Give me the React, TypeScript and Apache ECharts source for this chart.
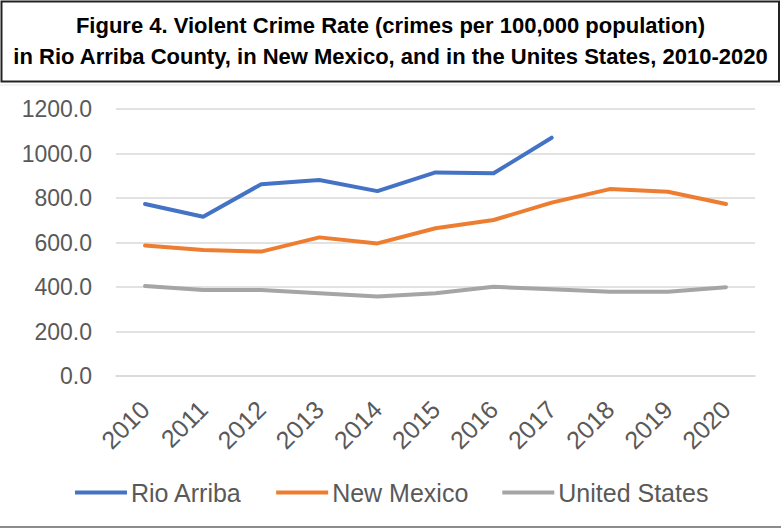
import React, { useEffect, useRef } from "react";
import * as echarts from "echarts";

const years = ["2010", "2011", "2012", "2013", "2014", "2015", "2016", "2017", "2018", "2019", "2020"];
const rioArriba = [773, 716, 862, 881, 831, 915, 911, 1071, null, null, null];
const newMexico = [586, 566, 559, 623, 596, 664, 701, 779, 840, 828, 773];
const unitedStates = [404, 386, 386, 372, 357, 372, 401, 390, 379, 379, 399];
const titleLines = [
  "Figure 4. Violent Crime Rate (crimes per 100,000 population)",
  "in Rio Arriba County, in New Mexico, and in the Unites States, 2010-2020",
];

const FONT = "'Liberation Sans', Arial, sans-serif";

export default function App() {
  const ref = useRef<HTMLDivElement>(null);
  useEffect(() => {
    if (!ref.current) return;
    const chart = echarts.init(ref.current, null, { renderer: "svg" });
    const mk = (name: string, data: (number | null)[], color: string) => ({
      name,
      type: "line",
      data,
      symbol: "none",
      showSymbol: false,
      lineStyle: { color, width: 4, cap: "round", join: "round" },
      itemStyle: { color },
      connectNulls: false,
    });
    chart.setOption({
      animation: false,
      backgroundColor: "#ffffff",
      title: {
        text: titleLines.join("\n"),
        left: "center",
        top: 5,
        textStyle: {
          fontFamily: FONT,
          fontWeight: "bold",
          fontSize: 22,
          lineHeight: 31,
          color: "#000000",
        },
      },
      graphic: [
        {
          type: "rect",
          shape: { x: 1.5, y: 1.5, width: 777.5, height: 80 },
          style: { fill: "none", stroke: "#222222", lineWidth: 2 },
          z: 10,
        },
        {
          type: "line",
          shape: { x1: 0, y1: 527, x2: 781, y2: 527 },
          style: { stroke: "#8c8c8c", lineWidth: 2 },
        },
        {
          type: "line",
          shape: { x1: 0, y1: 85, x2: 781, y2: 85 },
          style: { stroke: "#e6e6e6", lineWidth: 1 },
        },
      ],
      grid: { left: 116, right: 26, top: 109, bottom: 153, containLabel: false },
      xAxis: {
        type: "category",
        data: years,
        boundaryGap: true,
        axisLine: { show: true, lineStyle: { color: "#d9d9d9", width: 1.5 } },
        axisTick: { show: false },
        axisLabel: {
          rotate: 45,
          margin: 29,
          fontFamily: FONT,
          fontSize: 25,
          color: "#595959",
        },
      },
      yAxis: {
        type: "value",
        min: 0,
        max: 1200,
        interval: 200,
        axisLine: { show: false },
        axisTick: { show: false },
        splitLine: { lineStyle: { color: "#d9d9d9", width: 1.5 } },
        axisLabel: {
          margin: 24,
          fontFamily: FONT,
          fontSize: 23,
          color: "#595959",
          formatter: (v: number) => v.toFixed(1),
        },
      },
      legend: {
        left: 70,
        top: 475,
        itemWidth: 52,
        itemHeight: 4,
        itemGap: 34,
        icon: "rect",
        textStyle: { fontFamily: FONT, fontSize: 25, color: "#595959", padding: [0, 0, 0, -1] },
        data: ["Rio Arriba", "New Mexico", "United States"],
      },
      series: [
        mk("Rio Arriba", rioArriba, "#4472c4"),
        mk("New Mexico", newMexico, "#ed7d31"),
        mk("United States", unitedStates, "#a5a5a5"),
      ],
    });
    return () => chart.dispose();
  }, []);
  return (
    <div
      ref={ref}
      style={{ position: "absolute", left: 0, top: 0, width: 781, height: 529 }}
    />
  );
}
